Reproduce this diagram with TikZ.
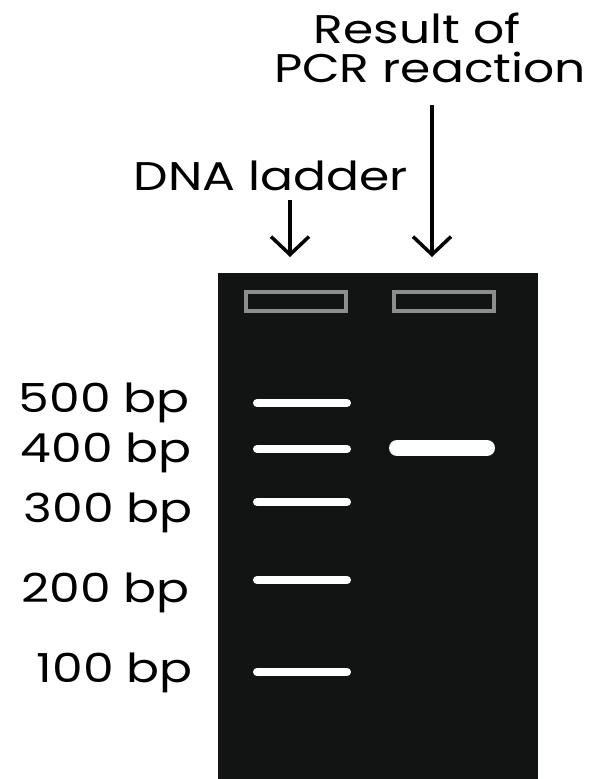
\documentclass[tikz,border=0pt]{standalone}
\usepackage{fontspec}
\setmainfont{Poppins}
\usetikzlibrary{arrows.meta}
\definecolor{gel}{HTML}{121414}
\definecolor{wellc}{HTML}{8E8E8E}
\newcommand{\wide}[1]{\scalebox{1.22}[1]{#1}}
\tikzset{
  lbl/.style={font=\fontsize{40}{44}\selectfont, text=black, inner sep=0pt},
  bandline/.style={white, line width=8pt, line cap=round},
  wellbox/.style={draw=wellc, line width=3.5pt},
  pointer/.style={black, line width=3.5pt, -{Straight Barb[length=18pt, width=38pt, line width=3.5pt]}}
}
\begin{document}
\begin{tikzpicture}[x=1pt, y=-1pt]
\useasboundingbox (0,0) rectangle (606,779);
% gel
\fill[gel] (218,273) rectangle (538,779);
\draw[wellbox] (246,292) rectangle (346,311);
\draw[wellbox] (394,292) rectangle (494,311);
% ladder bands
\coordinate (b5l) at (257,403); \coordinate (b5r) at (347,403);
\coordinate (b4l) at (257,449); \coordinate (b4r) at (347,449);
\coordinate (b3l) at (257,502); \coordinate (b3r) at (347,502);
\coordinate (b2l) at (257,580); \coordinate (b2r) at (347,580);
\coordinate (b1l) at (257,672); \coordinate (b1r) at (347,672);
\draw[bandline] (b5l) -- (b5r);
\draw[bandline] (b4l) -- (b4r);
\draw[bandline] (b3l) -- (b3r);
\draw[bandline] (b2l) -- (b2r);
\draw[bandline] (b1l) -- (b1r);
% PCR band
\coordinate (pl) at (397,448); \coordinate (pr) at (487,448);
\draw[white, line width=16pt, line cap=round] (pl) -- (pr);
% size labels
\node[lbl, anchor=base east] (l5) at (190,412) {\wide{500 bp}};
\node[lbl, anchor=base east] (l4) at (192,462) {\wide{400 bp}};
\node[lbl, anchor=base east] (l3) at (193,522) {\wide{300 bp}};
\node[lbl, anchor=base east] (l2) at (190,602) {\wide{200 bp}};
\node[lbl, anchor=base east] (l1) at (193,682) {\wide{100 bp}};
% top labels
\node[lbl, anchor=base] (res) at (417,43) {\wide{Result of}};
\node[lbl, anchor=base] (pcr) at (430,82) {\wide{PCR reaction}};
\node[lbl, anchor=base] (dna) at (271,190) {\wide{DNA ladder}};
% arrows
\coordinate (a1s) at (290,200); \coordinate (a1e) at (290,257);
\coordinate (a2s) at (432,105); \coordinate (a2e) at (432,257);
\draw[pointer] (a1s) -- (a1e);
\draw[pointer] (a2s) -- (a2e);
\end{tikzpicture}
\end{document}
